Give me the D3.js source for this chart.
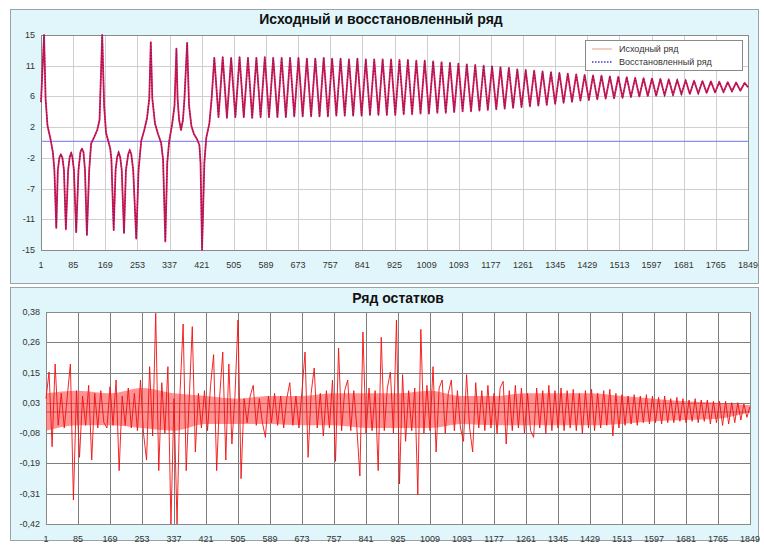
<!DOCTYPE html>
<html>
<head>
<meta charset="utf-8">
<script src="https://cdn.jsdelivr.net/npm/d3@7"></script>
<style>
  body { margin: 0; background: #fff; }
  svg text { font-family: "Liberation Sans", Arial, sans-serif; }
</style>
</head>
<body>
<svg id="chart" width="764" height="545"></svg>
<script>
// x axis categories (both panels)
const xTicks = [1, 85, 169, 253, 337, 421, 505, 589, 673, 757, 841, 925, 1009, 1093,
  1177, 1261, 1345, 1429, 1513, 1597, 1681, 1765, 1849];

// top panel y ticks (Excel-style auto scale, rounded labels)
const topTickValues = [14.9, 10.6, 6.3, 2.0, -2.3, -6.6, -10.9, -15.2];
const topTickLabels = ['15', '11', '6', '2', '-2', '-7', '-11', '-15'];

// bottom panel y ticks
const resTickValues = [0.375, 0.2614, 0.1479, 0.0343, -0.0793, -0.1929, -0.3064, -0.42];
const resTickLabels = ['0,38', '0,26', '0,15', '0,03', '-0,08', '-0,19', '-0,31', '-0,42'];

// series: first irregular part (index, value)
const headIdx = [1, 9, 13, 18, 26, 32, 36, 41, 45, 49, 53, 57, 61, 66, 72, 76, 80, 83, 87, 93,
  99, 104, 108, 112, 116, 121, 127, 132, 140, 148, 154, 161, 166, 171, 176, 182, 185, 191, 196,
  200, 204, 208, 212, 218, 223, 229, 233, 237, 242, 250, 256, 263, 271, 278, 284, 288, 292, 299,
  307, 315, 320, 326, 331, 336, 344, 350, 355, 358, 362, 367, 372, 376, 383, 388, 394, 401, 409,
  415, 418, 422, 428, 433, 441, 447];
const headVal = [5.5, 14.9, 6, 2.2, 0.3, -1.5, -4, -12.1, -4, -2.3, -1.8, -2.3, -4, -12.3, -4,
  -2.2, -1.6, -2.2, -4, -12.7, -4, -1.5, -1.0, -1.5, -4, -13.1, -4, -0.3, 0.6, 1.6, 3, 14.9, 5,
  1.2, 0.2, -1, -2.5, -12.4, -4, -2.2, -1.5, -2.2, -4, -12.8, -4, -1.8, -1.2, -1.8, -4, -13.6,
  -4, 0.1, 1.6, 3.2, 6, 13.9, 6, 2.5, 1.0, -0.2, -2.5, -14.0, -3, 0, 2.5, 5, 13.0, 6, 3, 1.6,
  3, 6, 13.8, 5, 2.2, 1.0, 0.3, -0.5, -3, -15.2, -3, 0.5, 2.5, 6];

// series: regular oscillation, peaks and troughs of each cycle
const cycleIdx = [454, 476, 498, 520, 542, 564, 586, 608, 630, 652,
  674, 696, 718, 740, 762, 784, 806, 828, 850, 872,
  894, 916, 938, 960, 982, 1004, 1026, 1048, 1070, 1092,
  1114, 1136, 1158, 1180, 1202, 1224, 1246, 1268, 1290, 1312,
  1334, 1356, 1378, 1400, 1422, 1444, 1466, 1488, 1510, 1532,
  1554, 1576, 1598, 1620, 1642, 1664, 1686, 1708, 1730, 1752,
  1774, 1796, 1818, 1840];
const cyclePeak = [11.7, 11.8, 11.7, 11.8, 11.7, 11.7, 11.8, 11.7, 11.7, 11.7,
  11.7, 11.6, 11.6, 11.7, 11.6, 11.6, 11.5, 11.6, 11.5, 11.5,
  11.5, 11.5, 11.4, 11.4, 11.3, 11.3, 11.2, 11.1, 11.0, 10.9,
  10.8, 10.7, 10.6, 10.5, 10.4, 10.3, 10.1, 10.0, 9.9, 9.8,
  9.7, 9.6, 9.5, 9.4, 9.3, 9.25, 9.2, 9.1, 9.05, 9.0,
  8.9, 8.85, 8.8, 8.75, 8.7, 8.6, 8.55, 8.5, 8.45, 8.4,
  8.35, 8.3, 8.25, 8.2];
const cycleTrough = [3.4, 3.3, 3.4, 3.4, 3.3, 3.4, 3.4, 3.4, 3.4, 3.5,
  3.5, 3.5, 3.5, 3.5, 3.6, 3.6, 3.6, 3.6, 3.7, 3.7,
  3.7, 3.7, 3.8, 3.8, 3.9, 3.9, 4.0, 4.0, 4.1, 4.2,
  4.2, 4.3, 4.4, 4.5, 4.6, 4.7, 4.8, 4.9, 5.0, 5.1,
  5.25, 5.4, 5.55, 5.7, 5.8, 5.9, 6.0, 6.05, 6.1, 6.2,
  6.3, 6.35, 6.4, 6.45, 6.5, 6.6, 6.65, 6.7, 6.8, 6.85,
  6.9, 7.0, 7.1];
const lastIdx = 1849;
const lastVal = 7.6;

// residuals, every 8th observation
const resid = [
  0.05, 0.15, -0.13, 0.18, -0.05, 0.07, -0.06, 0.06, 0.18, -0.33,
  0.08, -0.17, 0.06, -0.05, 0.10, -0.18, 0.07, -0.06, 0.08, -0.04,
  -0.06, 0.095, -0.05, 0.12, -0.22, 0.06, -0.05, 0.09, -0.06, 0.07,
  -0.07, 0.12, -0.08, -0.18, 0.17, -0.09, 0.37, -0.22, 0.11, -0.08,
  0.17, -0.42, 0.05, -0.42, 0.08, 0.33, -0.22, 0.05, 0.32, -0.15,
  0.07, -0.06, 0.08, -0.07, 0.10, 0.215, -0.22, 0.06, 0.225, -0.18,
  0.18, -0.12, 0.06, 0.345, -0.25, 0.05, -0.04, 0.06, 0.10, -0.05,
  0.05, -0.04, -0.095, 0.06, -0.04, 0.07, -0.05, 0.06, -0.06, 0.05,
  0.11, -0.05, 0.06, -0.06, 0.08, 0.225, -0.17, 0.07, 0.165, -0.06,
  0.07, -0.09, 0.08, -0.06, 0.12, -0.185, 0.24, -0.07, 0.08, 0.12,
  -0.07, 0.08, -0.06, -0.24, 0.30, -0.08, 0.09, -0.07, 0.08, -0.22,
  0.28, -0.07, 0.09, 0.15, -0.08, 0.345, -0.27, 0.14, -0.11, 0.08,
  -0.07, 0.09, -0.31, 0.31, -0.08, 0.10, -0.07, 0.17, -0.15, 0.09,
  0.12, -0.08, 0.07, 0.12, -0.07, 0.08, -0.06, -0.11, 0.14, -0.06,
  -0.15, 0.11, -0.06, 0.08, -0.07, 0.10, -0.06, 0.07, -0.08, 0.09,
  0.115, -0.12, 0.08, -0.07, 0.10, -0.06, 0.09, -0.08, 0.07, -0.07,
  -0.095, 0.09, -0.06, 0.08, -0.08, 0.10, -0.07, 0.08, -0.06, 0.09,
  -0.07, 0.08, -0.06, 0.085, -0.07, 0.07, -0.08, 0.08, -0.06, 0.085,
  -0.07, 0.07, -0.06, 0.08, -0.05, 0.085, -0.09, 0.07, -0.06, 0.065,
  -0.05, 0.06, -0.045, 0.065, -0.05, 0.06, -0.04, 0.065, -0.045, 0.06,
  -0.04, 0.055, -0.045, 0.06, -0.04, 0.05, -0.04, 0.055, -0.035, 0.05,
  -0.04, 0.045, -0.035, 0.05, -0.04, 0.045, -0.035, 0.045, -0.045, 0.04,
  -0.04, 0.04, -0.05, 0.04, -0.045, 0.035, -0.04, 0.035, -0.03, 0.03, -0.02, 0.02];
// dense core of the residual band, at the x ticks
const bandHi = [0.07, 0.08, 0.07, 0.09, 0.07, 0.06, 0.05, 0.06, 0.06, 0.07, 0.07, 0.07,
  0.08, 0.06, 0.06, 0.07, 0.07, 0.07, 0.06, 0.05, 0.04, 0.035, 0.025];
const bandLo = [-0.07, -0.05, -0.05, -0.06, -0.07, -0.045, -0.045, -0.045, -0.05, -0.05, -0.06,
  -0.06, -0.06, -0.045, -0.05, -0.05, -0.05, -0.05, -0.045, -0.035, -0.03, -0.025, 0.0];

const legendItems = ['Исходный ряд', 'Восстановленный ряд'];

// build the top series
let series = headIdx.map((d, i) => [d, headVal[i]]);
cycleIdx.forEach((d, k) => {
  series.push([d, cyclePeak[k]]);
  if (k < cycleTrough.length) series.push([(d + cycleIdx[k + 1]) / 2, cycleTrough[k]]);
});
series.push([lastIdx, lastVal]);

const residIdx = d3.range(1, 1850, 8);

const svg = d3.select('#chart');

// chart frames
svg.append('rect').attr('x', 10.5).attr('y', 9.5).attr('width', 748).attr('height', 274)
  .attr('fill', '#e1f6fa').attr('stroke', '#9aa4a8');
svg.append('rect').attr('x', 10.5).attr('y', 287.5).attr('width', 748).attr('height', 253)
  .attr('fill', '#e1f6fa').attr('stroke', '#9aa4a8');

function panel(opts) {
  const { left, right, top, bottom, yVals, yLabels, yDomain, gridColor, title, titleX, titleY } = opts;
  const x = d3.scaleLinear().domain([1, 1849]).range([left, right]);
  const y = d3.scaleLinear().domain(yDomain).range([bottom, top]);
  const g = svg.append('g');
  g.append('rect').attr('x', left).attr('y', top).attr('width', right - left)
    .attr('height', bottom - top).attr('fill', '#fff');

  g.append('g').selectAll('line').data(yVals).join('line')
    .attr('x1', left).attr('x2', right)
    .attr('y1', d => Math.round(y(d)) + 0.5).attr('y2', d => Math.round(y(d)) + 0.5)
    .attr('stroke', gridColor).attr('stroke-width', 1);
  g.append('g').selectAll('line').data(xTicks).join('line')
    .attr('x1', d => Math.round(x(d)) + 0.5).attr('x2', d => Math.round(x(d)) + 0.5)
    .attr('y1', top).attr('y2', bottom)
    .attr('stroke', gridColor).attr('stroke-width', 1);
  g.append('rect').attr('x', left + 0.5).attr('y', top + 0.5).attr('width', right - left)
    .attr('height', bottom - top).attr('fill', 'none').attr('stroke', '#8a8a8a');

  g.append('g').selectAll('text').data(yVals).join('text')
    .attr('x', left - 6).attr('y', d => y(d) + 3)
    .attr('text-anchor', 'end').attr('font-size', 9).attr('fill', '#333')
    .text((d, i) => yLabels[i]);
  g.append('g').selectAll('text').data(xTicks).join('text')
    .attr('x', d => x(d)).attr('y', bottom + 18)
    .attr('text-anchor', 'middle').attr('font-size', 9).attr('fill', '#333')
    .text(d => d);

  svg.append('text').attr('x', titleX).attr('y', titleY).attr('text-anchor', 'middle')
    .attr('font-size', 14).attr('font-weight', 'bold').attr('fill', '#111').text(title);
  return { x, y, g };
}

// top panel
const P1 = panel({ left: 41, right: 748, top: 35, bottom: 250,
  yVals: topTickValues, yLabels: topTickLabels, yDomain: [-15.2, 14.9],
  gridColor: '#cfcfcf', title: 'Исходный и восстановленный ряд', titleX: 381, titleY: 24 });

P1.g.append('line').attr('x1', 41).attr('x2', 748)
  .attr('y1', P1.y(0)).attr('y2', P1.y(0))
  .attr('stroke', '#8f8ff2').attr('stroke-width', 1.3);

const line1 = d3.line().x(d => P1.x(d[0])).y(d => P1.y(d[1]));
P1.g.append('path').datum(series).attr('d', line1)
  .attr('fill', 'none').attr('stroke', '#e3184c').attr('stroke-width', 1.8)
  .attr('stroke-linejoin', 'round');
P1.g.append('path').datum(series).attr('d', line1)
  .attr('fill', 'none').attr('stroke', '#6b1f7a').attr('stroke-width', 1.2)
  .attr('stroke-dasharray', '1.2,1.8');

// legend
const lg = svg.append('g');
lg.append('rect').attr('x', 585.5).attr('y', 40.5).attr('width', 157).attr('height', 30)
  .attr('fill', '#fff').attr('stroke', '#8a8a8a');
legendItems.forEach((name, i) => {
  const yy = 49 + i * 13;
  lg.append('line').attr('x1', 592).attr('x2', 612).attr('y1', yy).attr('y2', yy)
    .attr('stroke', i === 0 ? '#f2b49a' : '#3a3ac8').attr('stroke-width', 1.3)
    .attr('stroke-dasharray', i === 0 ? null : '1.5,1.5');
  lg.append('text').attr('x', 619).attr('y', yy + 3).attr('font-size', 9).attr('fill', '#333')
    .text(name);
});

// bottom panel
const P2 = panel({ left: 46, right: 750, top: 312, bottom: 524,
  yVals: resTickValues, yLabels: resTickLabels, yDomain: [-0.42, 0.375],
  gridColor: '#7d7d7d', title: 'Ряд остатков', titleX: 398, titleY: 303 });

P2.g.append('line').attr('x1', 46).attr('x2', 750)
  .attr('y1', P2.y(0)).attr('y2', P2.y(0))
  .attr('stroke', '#555').attr('stroke-width', 1);

const band = d3.area().x((d, i) => P2.x(xTicks[i]))
  .y0(d => P2.y(d[1])).y1(d => P2.y(d[0])).curve(d3.curveMonotoneX);
P2.g.append('path').datum(bandHi.map((d, i) => [d, bandLo[i]])).attr('d', band)
  .attr('fill', '#ff4a4a').attr('opacity', 0.6);

const line2 = d3.line().x((d, i) => P2.x(residIdx[i])).y(d => P2.y(d));
P2.g.append('path').datum(resid).attr('d', line2)
  .attr('fill', 'none').attr('stroke', '#f01010').attr('stroke-width', 0.9);
</script>
</body>
</html>
